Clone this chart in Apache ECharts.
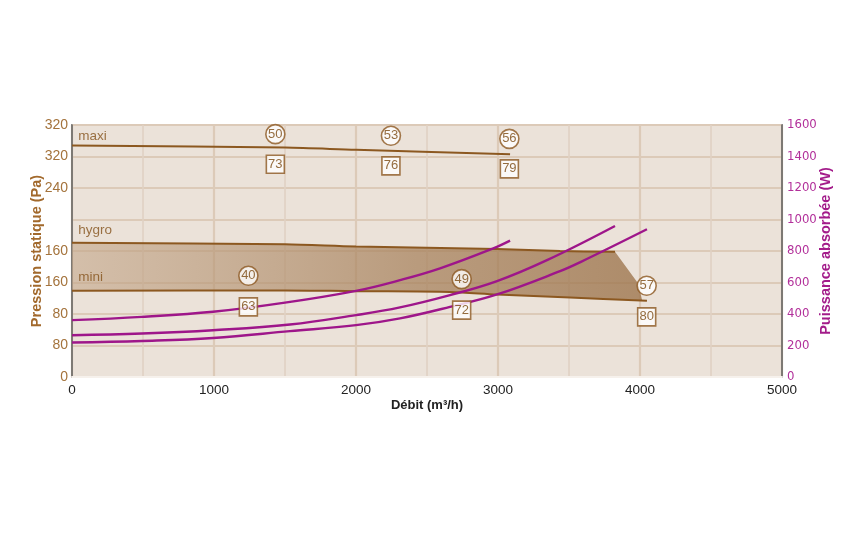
<!DOCTYPE html>
<html><head><meta charset="utf-8">
<script src="https://cdn.jsdelivr.net/npm/echarts@6/dist/echarts.min.js"></script>
<style>html,body{margin:0;padding:0;background:#fff}#c{width:860px;height:538px}</style>
</head><body><div id="c"></div>
<script>
// ---- data (x = Débit m3/h, brown curves on left scale, purple curves in W) ----
const xTickLabels = ['0','1000','2000','3000','4000','5000'];
const leftTickLabels = ['0','80','80','160','160','','240','320','320'];
const rightTickLabels = ['0','200','400','600','800','1000','1200','1400','1600'];

const maxiX = [0, 1500, 2000, 3085];
const maxiP = [294, 291.4, 288.5, 283];
const hygroX = [0, 1500, 2000, 2993, 3437, 3824];
const hygroP = [170.5, 168.5, 165.7, 162.5, 160, 159];
const miniX = [0, 1500, 2000, 2662, 2993, 3507, 4049];
const miniP = [109.5, 110, 109, 108, 104.8, 101, 96.7];
const zoneEdgeX = [3986, 4015];
const zoneEdgeP = [119.2, 97.5];

const powerAX = [0, 493, 993, 1500, 2000, 2310, 2592, 2967, 3085];
const powerA  = [361, 382, 414, 472, 547, 615, 690, 817, 866];
const powerBX = [0, 493, 993, 1535, 2000, 2310, 2662, 2993, 3345, 3824];
const powerB  = [265, 276, 297, 333, 393, 442, 520, 609, 742, 959];
const powerCX = [0, 493, 993, 1535, 2000, 2310, 2662, 2993, 3437, 3577, 4049];
const powerC  = [219, 229, 248, 291, 329, 372, 445, 524, 672, 728, 938];

const curveNames = ['maxi', 'hygro', 'mini'];
const curveNameX = [30, 30, 30];
const curveNameP = [306, 186.5, 126.5];

const circleText = ['50', '53', '56', '40', '49', '57'];
const circleX = [1432, 2246, 3080, 1242, 2744, 4047];
const circleP = [308.4, 306.3, 302.4, 128.5, 124.3, 115.8];
const boxText = ['73', '76', '79', '63', '72', '80'];
const boxX = [1432, 2246, 3080, 1242, 2744, 4047];
const boxP = [270.2, 268.1, 264.3, 89.1, 84.9, 76.3];

// ---- build ----
const zip = (xs, ys) => xs.map((x, i) => [x, ys[i]]);
const FONT = '"Liberation Sans", Arial, sans-serif';
const BROWN = '#8c5820';
const PURPLE = '#9e168a';

// pick a condensed font for the right-hand labels if one is installed
function hasFont(name) {
  const ctx = document.createElement('canvas').getContext('2d');
  const s = '1600 1400 abcdefghij';
  ctx.font = '20px monospace'; const w1 = ctx.measureText(s).width;
  ctx.font = '20px "' + name + '", monospace'; const w2 = ctx.measureText(s).width;
  ctx.font = '20px serif'; const w3 = ctx.measureText(s).width;
  ctx.font = '20px "' + name + '", serif'; const w4 = ctx.measureText(s).width;
  return w1 !== w2 || w3 !== w4;
}
let narrowFont = null;
for (const f of ['Liberation Sans Narrow', 'DejaVu Sans Condensed', 'Roboto Condensed', 'Open Sans Condensed']) {
  if (hasFont(f)) { narrowFont = f; break; }
}
const rightLabelFont = narrowFont ? '"' + narrowFont + '"' : FONT;
const rightLabelSize = narrowFont ? 13 : 12.5;

const zonePoly = zip(hygroX, hygroP)
  .concat(zip(zoneEdgeX, zoneEdgeP))
  .concat(zip(miniX.slice(0, -1), miniP.slice(0, -1)).reverse());

const chart = echarts.init(document.getElementById('c'), null, {renderer: 'canvas'});
chart.setOption({
  animation: false,
  textStyle: {fontFamily: FONT},
  grid: {left: 72, right: 78, top: 125, bottom: 161, show: true,
         backgroundColor: '#ebe2d9', borderColor: '#5e5e5e', borderWidth: 1.5},
  xAxis: {
    type: 'value', min: 0, max: 5000, interval: 1000,
    name: 'Débit (m³/h)', nameLocation: 'middle', nameGap: 22, nameMoveOverlap: false,
    nameTextStyle: {fontFamily: FONT, fontWeight: 'bold', fontSize: 13, color: '#222'},
    axisLine: {show: true, lineStyle: {color: '#f6f1ec', width: 2}},
    axisTick: {show: false},
    axisLabel: {fontFamily: FONT, fontSize: 13.5, color: '#222', margin: 6,
                formatter: v => xTickLabels[Math.round(v / 1000)]},
    splitLine: {show: true, lineStyle: {color: '#dccab8', width: 2.2}},
    minorTick: {show: false, splitNumber: 2},
    minorSplitLine: {show: true, lineStyle: {color: '#e0d1c3', width: 1.6}}
  },
  yAxis: [{
    type: 'value', min: 0, max: 320, interval: 40, position: 'left',
    name: 'Pression statique (Pa)', nameLocation: 'middle', nameGap: 28, nameRotate: 90,
    nameMoveOverlap: false,
    nameTextStyle: {fontFamily: FONT, fontWeight: 'bold', fontSize: 14.5, color: '#a2692c'},
    axisLine: {show: true, lineStyle: {color: '#5e5e5e', width: 1.5}},
    axisTick: {show: false},
    axisLabel: {fontFamily: FONT, fontSize: 14, color: '#a4733c', margin: 4,
                formatter: v => leftTickLabels[Math.round(v / 40)]},
    splitLine: {show: false}
  }, {
    type: 'value', min: 0, max: 1600, interval: 200, position: 'right',
    name: 'Puissance absorbée (W)', nameLocation: 'middle', nameGap: 36, nameRotate: 90,
    nameMoveOverlap: false,
    nameTextStyle: {fontFamily: FONT, fontWeight: 'bold', fontSize: 14.5, color: '#a31c8a'},
    axisLine: {show: true, lineStyle: {color: '#5e5e5e', width: 1.5}},
    axisTick: {show: false},
    axisLabel: {fontFamily: rightLabelFont, fontSize: rightLabelSize, color: '#b2309a', margin: 5,
                formatter: v => rightTickLabels[Math.round(v / 200)]},
    splitLine: {show: true, lineStyle: {color: '#dccab8', width: 2}}
  }],
  series: [
    {
      type: 'custom', yAxisIndex: 0, z: 1, silent: true,
      data: [0],
      renderItem: (params, api) => ({
        type: 'polygon',
        shape: {points: zonePoly.map(p => api.coord(p))},
        style: {fill: new echarts.graphic.LinearGradient(0, 0, 1, 0, [
          {offset: 0, color: 'rgba(196,167,138,0.6)'},
          {offset: 0.6, color: 'rgba(166,128,90,0.72)'},
          {offset: 1, color: 'rgba(158,118,78,0.8)'}])}
      })
    },
    {type: 'line', yAxisIndex: 0, data: zip(maxiX, maxiP), smooth: 0.3, symbol: 'none', z: 3,
     lineStyle: {color: BROWN, width: 2}},
    {type: 'line', yAxisIndex: 0, data: zip(hygroX, hygroP), smooth: 0.3, symbol: 'none', z: 3,
     lineStyle: {color: BROWN, width: 2}},
    {type: 'line', yAxisIndex: 0, data: zip(miniX, miniP), smooth: 0.3, symbol: 'none', z: 3,
     lineStyle: {color: BROWN, width: 2}},
    {type: 'line', yAxisIndex: 1, data: zip(powerAX, powerA), smooth: 0.4, symbol: 'none', z: 4,
     lineStyle: {color: PURPLE, width: 2.4}},
    {type: 'line', yAxisIndex: 1, data: zip(powerBX, powerB), smooth: 0.4, symbol: 'none', z: 4,
     lineStyle: {color: PURPLE, width: 2.4}},
    {type: 'line', yAxisIndex: 1, data: zip(powerCX, powerC), smooth: 0.4, symbol: 'none', z: 4,
     lineStyle: {color: PURPLE, width: 2.4}},
    {type: 'scatter', yAxisIndex: 0, z: 6, symbol: 'circle', symbolSize: 0.1,
     itemStyle: {color: 'transparent'},
     data: curveNames.map((n, i) => ({name: n, value: [curveNameX[i], curveNameP[i]]})),
     label: {show: true, position: 'right', distance: 2, formatter: p => p.name,
             fontFamily: FONT, fontSize: 13.5, color: '#85531c'}},
    {type: 'scatter', yAxisIndex: 0, z: 6, symbol: 'circle', symbolSize: 19,
     itemStyle: {color: '#fff', borderColor: BROWN, borderWidth: 1.6},
     data: circleText.map((t, i) => ({name: t, value: [circleX[i], circleP[i]]})),
     label: {show: true, position: 'inside', formatter: p => p.name,
             fontFamily: FONT, fontSize: 13, color: '#7a4810'}},
    {type: 'scatter', yAxisIndex: 0, z: 6, symbol: 'rect', symbolSize: [18, 18],
     itemStyle: {color: '#fff', borderColor: BROWN, borderWidth: 1.6},
     data: boxText.map((t, i) => ({name: t, value: [boxX[i], boxP[i]]})),
     label: {show: true, position: 'inside', formatter: p => p.name,
             fontFamily: FONT, fontSize: 13, color: '#7a4810'}}
  ]
});
</script></body></html>
